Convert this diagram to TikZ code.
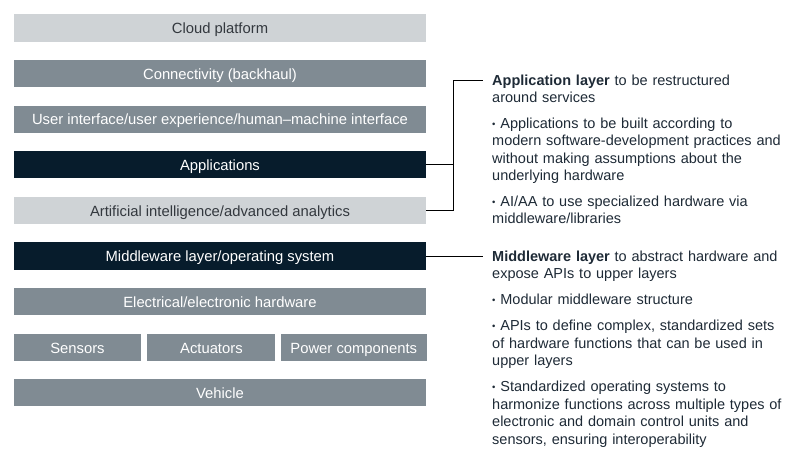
\documentclass[tikz,border=0pt]{standalone}
\usepackage{fontspec}
\setmainfont{Liberation Sans}
\usepackage{tikz}
\usetikzlibrary{positioning}
\definecolor{lightlayer}{HTML}{CFD3D6}
\definecolor{midlayer}{HTML}{808B93}
\definecolor{darklayer}{HTML}{071C2C}
\definecolor{lighttext}{HTML}{33383E}
\definecolor{notetext}{HTML}{1E2A36}
\tikzstyle{line} = [draw, black, line width=0.8pt]
\tikzstyle{layer} = [rectangle, text centered, minimum width=412pt, minimum height=27.2pt, inner sep=0pt, text height=11.6pt, text depth=0pt, font=\fontsize{14.8}{17}\selectfont]
\tikzstyle{light} = [layer, fill=lightlayer, text=lighttext]
\tikzstyle{mid} = [layer, fill=midlayer, text=white]
\tikzstyle{dark} = [layer, fill=darklayer, text=white]
\tikzstyle{note} = [text width=310pt, align=left, anchor=base west, inner sep=0pt, text=notetext, font=\fontsize{14.5}{17.5}\selectfont]
\newcommand{\dotitem}{\raisebox{1.2pt}{\fontsize{9.5}{9.5}\selectfont\textbullet}\ }

\begin{document}
\begin{tikzpicture}[x=1pt, y=1pt, node distance=18pt]
        \useasboundingbox (0,0) rectangle (810,469);
        % layer stack
        \node[light] (cloud) at (220,441) {Cloud platform};
        \node[mid, below=of cloud] (conn) {Connectivity (backhaul)};
        \node[mid, below=of conn] (ui) {User interface/user experience/human--machine interface};
        \node[dark, below=of ui] (apps) {Applications};
        \node[light, below=of apps] (ai) {Artificial intelligence/advanced analytics};
        \node[dark, below=of ai] (mw) {Middleware layer/operating system};
        \node[mid, below=of mw] (hw) {Electrical/electronic hardware};
        \node[mid, below=of hw.south west, anchor=north west, minimum width=127pt] (sensors) {Sensors};
        \node[mid, right=6pt of sensors, minimum width=128pt] (actuators) {Actuators};
        \node[mid, right=5pt of actuators, minimum width=146pt] (power) {Power components};
        \node[mid, below=of sensors.south west, anchor=north west] (vehicle) {Vehicle};
        % notes
        \node[note] (appsnote) at (492,383.5) {\textbf{Application layer} to be restructured\\
            around services\\[8pt]
            \dotitem Applications to be built according to\\
            modern software-development practices and\\
            without making assumptions about the\\
            underlying hardware\\[8pt]
            \dotitem AI/AA to use specialized hardware via\\
            middleware/libraries};
        \node[note] (mwnote) at (492,208) {\textbf{Middleware layer} to abstract hardware and\\
            expose APIs to upper layers\\[8.5pt]
            \dotitem Modular middleware structure\\[8.5pt]
            \dotitem APIs to define complex, standardized sets\\
            of hardware functions that can be used in\\
            upper layers\\[8.5pt]
            \dotitem Standardized operating systems to\\
            harmonize functions across multiple types of\\
            electronic and domain control units and\\
            sensors, ensuring interoperability};
        \coordinate (appsbend) at ([xshift=-39pt,yshift=5pt]appsnote.base west);
        \coordinate (appsend) at ([xshift=-9pt,yshift=5pt]appsnote.base west);
        \coordinate (mwend) at ([xshift=-9pt,yshift=5pt]mwnote.base west);
        \path[line] (apps.east) -- (apps.east -| appsbend);
        \path[line] (ai.east) -| (appsbend) -- (appsend);
        \path[line] (mw.east) -- (mw.east -| mwend);
    \end{tikzpicture}
\end{document}
